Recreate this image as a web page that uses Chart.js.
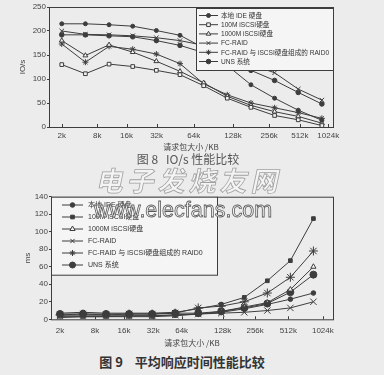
<!DOCTYPE html>
<html>
<head>
<meta charset="utf-8">
<script src="https://cdn.jsdelivr.net/npm/chart.js"></script>
<style>
html, body { margin: 0; padding: 0; }
body { width: 384px; height: 375px; background: #ececec; position: relative; overflow: hidden; }
canvas { position: absolute; left: 0; }
#ioChart { top: 0; }
#msChart { top: 180px; }
.cap { position: absolute; width: 384px; text-align: center; white-space: pre; font-family: "Noto Sans CJK SC", sans-serif; line-height: 1; }
#cap8 { top: 153px; left: -4px; font-size: 12px; color: #555; }
#cap9 { top: 355px; left: -10px; font-size: 13px; font-weight: bold; color: #333; }
.wm { position: absolute; white-space: pre; line-height: 1; color: #f4f4f4; }
#wmCn { top: 166px; left: 98px; font-family: "Noto Sans CJK SC", sans-serif; font-size: 27px; font-weight: bold; letter-spacing: 4px; -webkit-text-stroke: 0.8px #a0a0a0; transform: skewX(-12deg); }
#wmUrl { top: 200px; left: 94px; font-family: "Liberation Sans", Arial, sans-serif; font-size: 21.5px; -webkit-text-stroke: 0.8px #5a5a5a; }
</style>
</head>
<body>
<canvas id="ioChart" width="384" height="160"></canvas>
<canvas id="msChart" width="384" height="170"></canvas>
<div class="wm" id="wmCn">电子发烧友网</div>
<div class="cap" id="cap8">图 8   IO/s 性能比较</div>
<div class="wm" id="wmUrl">www.elecfans.com</div>
<div class="cap" id="cap9">图 9    平均响应时间性能比较</div>
<script>
// request sizes: 12 measured points, 9 axis labels
var sizeLabels = ['2k', '8k', '16k', '32k', '64k', '128k', '256k', '512k', '1024k'];
var ioTickPos = [0, 1.5, 2.74, 4.01, 5.58, 7.24, 8.77, 10.07, 11.27];
var msTickPos = [0, 1.52, 2.78, 4.05, 5.28, 7.06, 8.47, 9.91, 11.41];
var seriesNames = ['本地 IDE 硬盘', '100M iSCSI硬盘', '1000M iSCSI硬盘', 'FC-RAID', 'FC-RAID 与 iSCSI硬盘组成的 RAID0', 'UNS 系统'];

// 图 8 IO/s
var ioLocalIde = [215, 215, 213, 210, 201, 191, 165, 128, 88, 60, 35, 14];
var io100M     = [130, 111, 131, 126, 118, 109, 86, 60, 41, 24, 15, 3];
var io1000M    = [180, 149, 171, 156, 137, 116, 92, 64, 45, 32, 22, 8];
var ioFcRaid   = [200, 193, 192, 190, 186, 180, 170, 150, 130, 113, 79, 56];
var ioRaid0    = [173, 135, 168, 162, 152, 132, 90, 67, 50, 40, 30, 18];
var ioUns      = [192, 192, 190, 188, 180, 170, 155, 135, 118, 97, 72, 48];

// 图 9 ms
var msLocalIde = [4, 4, 4, 4, 4, 5, 6, 8, 12, 17, 23, 30];
var ms100M     = [7, 8, 7, 7, 7, 8, 12, 17, 25, 44, 67, 115];
var ms1000M    = [2, 3, 3, 3, 3, 4, 6, 9, 14, 19, 34, 60];
var msFcRaid   = [3, 3, 3, 4, 4, 5, 6, 7, 8, 10, 13, 20];
var msRaid0    = [5, 6, 5, 6, 6, 7, 13, 15, 20, 30, 48, 78];
var msUns      = [6, 6, 6, 6, 6, 7, 7, 9, 13, 18, 31, 51];

var ink = '#3d3d3d';
var tickFont = { family: '"Liberation Sans", Arial, sans-serif', size: 8 };
var cjkFont = { family: '"Noto Sans CJK SC", sans-serif', size: 8 };

function toPoints(values) {
    return values.map(function(v, i) { return { x: i, y: v }; });
}

function makeSets(lists, marks) {
    return lists.map(function(values, i) {
        var m = marks[i];
        return {
            label: seriesNames[i],
            data: toPoints(values),
            borderColor: ink,
            borderWidth: 1,
            pointStyle: m[0],
            pointRadius: m[1],
            pointBackgroundColor: m[2],
            pointBorderColor: ink,
            pointBorderWidth: 1,
            tension: 0
        };
    });
}

// plot frame and small inner ticks on the x axis
var frame = {
    id: 'frame',
    beforeDatasetsDraw: function(chart) {
        var ctx = chart.ctx, a = chart.chartArea;
        ctx.save();
        ctx.strokeStyle = ink;
        ctx.lineWidth = 1;
        ctx.strokeRect(a.left + 0.5, a.top + 0.5, a.right - a.left, a.bottom - a.top);
        chart.scales.x.ticks.forEach(function(t) {
            var px = Math.round(chart.scales.x.getPixelForValue(t.value)) + 0.5;
            ctx.beginPath();
            ctx.moveTo(px, a.bottom);
            ctx.lineTo(px, a.bottom - 3);
            ctx.stroke();
        });
        ctx.restore();
    }
};

// legend drawn as a framed box inside the plot
var boxLegend = {
    id: 'boxLegend',
    afterDatasetsDraw: function(chart, args, o) {
        var ctx = chart.ctx;
        ctx.save();
        ctx.fillStyle = '#f5f5f5';
        ctx.fillRect(o.x, o.y, o.w, o.h);
        ctx.strokeStyle = ink;
        ctx.lineWidth = 1;
        ctx.strokeRect(o.x + 0.5, o.y + 0.5, o.w, o.h);
        ctx.font = o.size + 'px "Liberation Sans", "Noto Sans CJK SC", sans-serif';
        ctx.textBaseline = 'middle';
        chart.data.datasets.forEach(function(ds, i) {
            var y = o.y + o.first + i * o.step;
            ctx.strokeStyle = ink;
            ctx.beginPath();
            ctx.moveTo(o.x + o.l0, y);
            ctx.lineTo(o.x + o.l1, y);
            ctx.stroke();
            ctx.fillStyle = ds.pointBackgroundColor;
            var mx = o.x + (o.l0 + o.l1) / 2;
            var r = Math.min(ds.pointRadius, o.maxR);
            if (Chart.helpers && Chart.helpers.drawPoint) {
                Chart.helpers.drawPoint(ctx, { pointStyle: ds.pointStyle, radius: r, borderWidth: 1, rotation: 0 }, mx, y);
            } else {
                ctx.beginPath();
                ctx.arc(mx, y, r, 0, Math.PI * 2);
                ctx.fill();
                ctx.stroke();
            }
            ctx.fillStyle = '#333';
            ctx.fillText(ds.label, o.x + o.tx, y + 0.5);
        });
        ctx.restore();
    }
};

function sizeAxis(tickPos, min, max, axisHeight, labelPad, titlePad) {
    return {
        type: 'linear',
        min: min,
        max: max,
        grid: { display: false, drawTicks: false },
        border: { display: false },
        afterBuildTicks: function(s) {
            s.ticks = tickPos.map(function(v) { return { value: v }; });
        },
        afterFit: function(s) { s.height = axisHeight; },
        ticks: {
            autoSkip: false,
            maxRotation: 0,
            padding: labelPad,
            color: '#444',
            font: tickFont,
            callback: function(v, i) { return sizeLabels[i]; }
        },
        title: { display: true, text: '请求包大小 /KB', color: '#444', font: cjkFont, padding: { top: 0, bottom: titlePad } }
    };
}

function valueAxis(max, step, width, titleText, titlePad) {
    return {
        min: 0,
        max: max,
        afterFit: function(s) { s.width = width; },
        grid: { display: true, drawOnChartArea: false, drawTicks: true, tickLength: 2, color: ink },
        border: { display: true, color: ink },
        ticks: { stepSize: step, padding: 1, color: '#444', font: tickFont },
        title: { display: true, text: titleText, color: '#444', font: tickFont, padding: { top: titlePad, bottom: 0 } }
    };
}

var ioMarks = [
    ['circle', 2, ink],
    ['rect', 2.6, '#f3f3f3'],
    ['triangle', 2.8, '#f3f3f3'],
    ['crossRot', 3.2, ink],
    ['star', 3, ink],
    ['circle', 2.3, ink]
];
var msMarks = [
    ['circle', 2.3, ink],
    ['rect', 2.6, ink],
    ['triangle', 3, '#f3f3f3'],
    ['crossRot', 4.5, ink],
    ['star', 4.5, ink],
    ['circle', 3.5, ink]
];

new Chart(document.getElementById('ioChart'), {
    type: 'line',
    data: { datasets: makeSets([ioLocalIde, io100M, io1000M, ioFcRaid, ioRaid0, ioUns], ioMarks) },
    options: {
        responsive: false,
        animation: false,
        layout: { padding: { left: 0, right: 51, top: 7, bottom: 0 } },
        scales: {
            x: sizeAxis(ioTickPos, -0.54, 11.47, 33, 4.2, 8.2),
            y: valueAxis(250, 50, 49, 'IO/s', 18)
        },
        plugins: {
            legend: { display: false },
            tooltip: { enabled: false },
            boxLegend: { x: 196, y: 8, w: 137, h: 62, first: 7.5, step: 9.2, l0: 3, l1: 22, tx: 25, size: 6.6, maxR: 2.6 }
        }
    },
    plugins: [frame, boxLegend]
});

new Chart(document.getElementById('msChart'), {
    type: 'line',
    data: { datasets: makeSets([msLocalIde, ms100M, ms1000M, msFcRaid, msRaid0, msUns], msMarks) },
    options: {
        responsive: false,
        animation: false,
        layout: { padding: { left: 0, right: 51, top: 16.7, bottom: 0 } },
        scales: {
            x: sizeAxis(msTickPos, -0.39, 11.85, 30.7, 6.2, 1.9),
            y: valueAxis(140, 20, 51, 'ms', 23)
        },
        plugins: {
            legend: { display: false },
            tooltip: { enabled: false },
            boxLegend: { x: 51, y: 16.7, w: 166, h: 78, first: 8.3, step: 12, l0: 11, l1: 32, tx: 37, size: 7, maxR: 3 }
        }
    },
    plugins: [frame, boxLegend]
});
</script>
</body>
</html>
